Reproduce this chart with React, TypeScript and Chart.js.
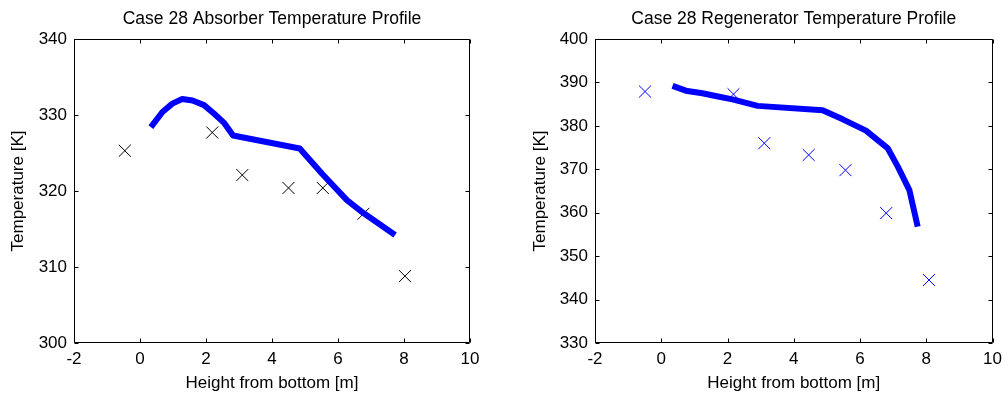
import React, { useEffect, useRef } from 'react';
import { Chart, registerables } from 'chart.js';

Chart.register(...registerables);

// ---- Data ----
const xTickValues = [-2, 0, 2, 4, 6, 8, 10];
const absorberTickValues = [300, 310, 320, 330, 340];
const regenTickValues = [330, 340, 350, 360, 370, 380, 390, 400];

const absorberModelX = [0.33, 0.68, 0.98, 1.28, 1.59, 1.94, 2.24, 2.54, 2.82, 4.84, 5.51, 6.27, 6.77, 7.73];
const absorberModelT = [328.4, 330.4, 331.5, 332.1, 331.9, 331.3, 330.2, 329.0, 327.3, 325.6, 322.3, 318.8, 317.1, 314.2];
const absorberMeasX = [-0.46, 2.19, 3.1, 4.5, 5.54, 6.77, 8.03];
const absorberMeasT = [325.3, 327.7, 322.1, 320.4, 320.4, 317.0, 308.8];

const regenModelX = [0.34, 0.74, 1.24, 1.75, 2.15, 2.91, 4.87, 5.48, 6.18, 6.84, 7.14, 7.49, 7.74];
const regenModelT = [389.2, 388.1, 387.5, 386.7, 386.1, 384.6, 383.6, 381.5, 378.9, 374.8, 370.6, 365.2, 356.8];
const regenMeasX = [-0.49, 2.18, 3.11, 4.45, 5.56, 6.79, 8.08];
const regenMeasT = [387.9, 387.3, 376.0, 373.3, 369.8, 359.9, 344.5];

const FONT = '"Liberation Sans", Arial, Helvetica, sans-serif';
const BLUE = '#0000ff';

const boxTicksPlugin = {
  id: 'boxTicks',
  afterDraw(chart: any) {
    const { ctx, chartArea } = chart;
    const { left, right, top, bottom } = chartArea;
    const xs = chart.scales.x;
    const ys = chart.scales.y;
    const L = Math.round(left) + 0.5;
    const R = Math.round(right) - 0.5;
    const T = Math.round(top) + 0.5;
    const B = Math.round(bottom) - 0.5;
    const len = 4;
    ctx.save();
    ctx.strokeStyle = '#000';
    ctx.lineWidth = 1;
    ctx.beginPath();
    ctx.rect(L, T, R - L, B - T);
    xs.ticks.forEach((t: any) => {
      const px = Math.round(xs.getPixelForValue(t.value)) + 0.5;
      ctx.moveTo(px, B);
      ctx.lineTo(px, B - len);
      ctx.moveTo(px, T);
      ctx.lineTo(px, T + len);
    });
    ys.ticks.forEach((t: any) => {
      const py = Math.round(ys.getPixelForValue(t.value)) + 0.5;
      ctx.moveTo(L, py);
      ctx.lineTo(L + len, py);
      ctx.moveTo(R, py);
      ctx.lineTo(R - len, py);
    });
    ctx.stroke();
    ctx.restore();
  },
};

function toPoints(xs: number[], ys: number[]) {
  return xs.map((x, i) => ({ x, y: ys[i] }));
}

interface PanelProps {
  title: string;
  modelX: number[];
  modelT: number[];
  measX: number[];
  measT: number[];
  yTicks: number[];
  markerColor: string;
  yAxisWidth: number;
  yTitlePad: number;
  rightPad: number;
  left: number;
  width: number;
}

function Panel(p: PanelProps) {
  const ref = useRef<HTMLCanvasElement | null>(null);
  useEffect(() => {
    if (!ref.current) return;
    const chart = new Chart(ref.current, {
      type: 'scatter',
      data: {
        datasets: [
          {
            data: toPoints(p.modelX, p.modelT),
            showLine: true,
            borderColor: BLUE,
            backgroundColor: BLUE,
            borderWidth: 6,
            pointRadius: 0,
            tension: 0,
            borderJoinStyle: 'round',
          } as any,
          {
            data: toPoints(p.measX, p.measT),
            showLine: false,
            pointStyle: 'crossRot',
            pointRadius: 8.5,
            pointBorderWidth: 1,
            borderColor: p.markerColor,
            backgroundColor: p.markerColor,
            pointBorderColor: p.markerColor,
          } as any,
        ],
      },
      options: {
        animation: false,
        responsive: false,
        devicePixelRatio: 1,
        layout: { padding: { left: 0, right: p.rightPad, top: 0, bottom: 0 } },
        plugins: {
          legend: { display: false },
          tooltip: { enabled: false },
          title: {
            display: true,
            fullSize: false,
            text: p.title,
            color: '#000',
            font: { family: FONT, size: 17.5, weight: 'normal', lineHeight: 1.2 },
            padding: { top: 8.5, bottom: 9.5 },
          },
        },
        scales: {
          x: {
            type: 'linear',
            min: -2,
            max: 10,
            grid: { display: false, drawTicks: false },
            border: { display: false },
            afterFit: (s: any) => { s.height = 54; },
            afterBuildTicks: (s: any) => { s.ticks = xTickValues.map((v) => ({ value: v })); },
            ticks: {
              color: '#000',
              padding: 6,
              font: { family: FONT, size: 17 },
              maxRotation: 0,
              autoSkip: false,
            },
            title: {
              display: true,
              text: 'Height from bottom [m]',
              color: '#000',
              font: { family: FONT, size: 17, lineHeight: 1.2 },
              padding: { top: 3.4, bottom: 3.4 },
            },
          },
          y: {
            type: 'linear',
            min: p.yTicks[0],
            max: p.yTicks[p.yTicks.length - 1],
            grid: { display: false, drawTicks: false },
            border: { display: false },
            afterFit: (s: any) => { s.width = p.yAxisWidth; },
            afterBuildTicks: (s: any) => { s.ticks = p.yTicks.map((v) => ({ value: v })); },
            ticks: {
              color: '#000',
              padding: 7,
              font: { family: FONT, size: 17 },
              autoSkip: false,
            },
            title: {
              display: true,
              text: 'Temperature [K]',
              color: '#000',
              font: { family: FONT, size: 17, lineHeight: 1.2 },
              padding: { top: p.yTitlePad, bottom: p.yTitlePad },
            },
          },
        },
      } as any,
      plugins: [boxTicksPlugin],
    });
    return () => chart.destroy();
  }, []);
  return (
    <canvas
      ref={ref}
      width={p.width}
      height={397}
      style={{ position: 'absolute', left: p.left, top: 0, width: p.width, height: 397 }}
    />
  );
}

export default function App() {
  return (
    <div style={{ position: 'fixed', left: 0, top: 0, width: 1008, height: 397, background: '#fff' }}>
      <Panel
        title="Case 28 Absorber Temperature Profile"
        modelX={absorberModelX}
        modelT={absorberModelT}
        measX={absorberMeasX}
        measT={absorberMeasT}
        yTicks={absorberTickValues}
        markerColor="#000"
        yAxisWidth={74}
        yTitlePad={8}
        rightPad={50}
        left={0}
        width={520}
      />
      <Panel
        title="Case 28 Regenerator Temperature Profile"
        modelX={regenModelX}
        modelT={regenModelT}
        measX={regenMeasX}
        measT={regenMeasT}
        yTicks={regenTickValues}
        markerColor={BLUE}
        yAxisWidth={75}
        yTitlePad={10.4}
        rightPad={15}
        left={520}
        width={488}
      />
    </div>
  );
}
